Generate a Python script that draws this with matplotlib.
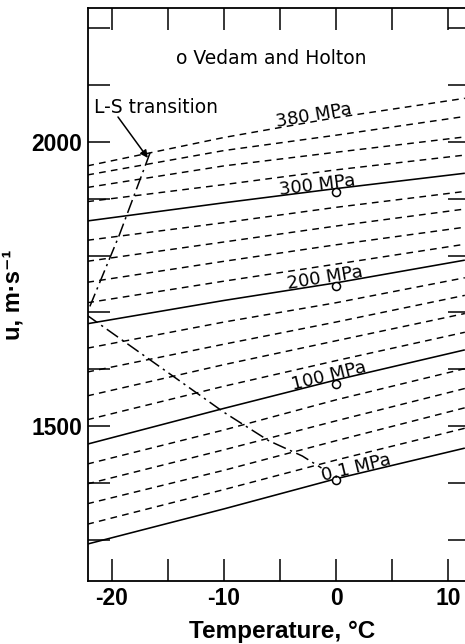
import numpy as np
import matplotlib
matplotlib.use("Agg")
import matplotlib.pyplot as plt
from matplotlib import transforms

# ---------------- data ----------------
temps = [-22.2, -10.0, 0.0, 11.5]          # deg C columns where speeds were read
pressures = [0.1, 20, 40, 60, 80, 100, 120, 140, 160, 180,
             200, 220, 240, 260, 280, 300, 320, 340, 360, 380]   # MPa
u_m22 = [1292, 1327, 1363, 1398, 1433, 1468, 1511, 1553, 1595, 1637,
         1680, 1717, 1753, 1790, 1827, 1861, 1895, 1920, 1942, 1958]
u_m10 = [1354, 1388, 1422, 1458, 1493, 1531, 1570, 1608, 1644, 1683,
         1721, 1755, 1790, 1824, 1858, 1893, 1925, 1958, 1985, 2008]
u_0 = [1407, 1440, 1474, 1509, 1546, 1581, 1615, 1650, 1683, 1717,
       1752, 1785, 1819, 1852, 1885, 1918, 1951, 1982, 2012, 2043]
u_p11 = [1461, 1496, 1532, 1566, 1601, 1634, 1665, 1698, 1730, 1761,
         1792, 1820, 1850, 1882, 1913, 1945, 1977, 2009, 2045, 2077]
solid_pressures = [0.1, 100, 200, 300]
labelled = {380: "380 MPa", 300: "300 MPa", 200: "200 MPa",
            100: "100 MPa", 0.1: "0.1 MPa"}

# Vedam and Holton points
vh_T = [0, 0, 0, 0]
vh_u = [1405, 1574, 1747, 1912]

# L-S transition line
trans_T = [-16.6, -19.35, -22.3]
trans_u = [1981, 1836, 1695]

# melting line
melt_T = [-22.3, -18, -14, -10, -6, -3, -1.3]
melt_u = [1696, 1636, 1580, 1524, 1474, 1447, 1426]

x_major = [-20, -10, 0, 10]
x_major_labels = ["-20", "-10", "0", "10"]
x_minor = [-15, -5, 5]
y_major = [1500, 2000]
y_major_labels = ["1500", "2000"]
y_minor = [1300, 1400, 1600, 1700, 1800, 1900, 2100, 2200]

# ---------------- figure ----------------
plt.rcParams['axes.unicode_minus'] = False
fig = plt.figure(figsize=(4.65, 6.44), dpi=100)
ax = fig.add_axes([88/465, 63/644, 382/465, 573/644])
ax.set_xlim(-22.14, 11.96)
ax.set_ylim(1227, 2236)

U = np.array([u_m22, u_m10, u_0, u_p11])   # shape (4, n)

for i, p in enumerate(pressures):
    col = U[:, i]
    if p in solid_pressures:
        ax.plot(temps, col, color='black', lw=1.15, solid_capstyle='butt')
    else:
        ax.plot(temps, col, color='black', lw=1.05, dashes=(4.6, 3.6))

ax.plot(trans_T, trans_u, color='black', lw=1.1, dashes=(9, 3, 1.5, 3))
ax.plot(melt_T, melt_u, color='black', lw=1.1, dashes=(9, 3, 1.5, 3))

ax.plot(vh_T, vh_u, linestyle='none', marker='o', markersize=5.8,
        markerfacecolor='white', markeredgecolor='black', markeredgewidth=1.1,
        zorder=5)

# line labels
label_start = {380: -5.3, 300: -5.0, 200: -4.3, 100: -3.8, 0.1: -1.15}
off = transforms.offset_copy(ax.transData, fig=fig, x=0, y=1, units='dots')
for p, txt in labelled.items():
    i = pressures.index(p)
    col = U[:, i]
    t0 = label_start[p]
    t1 = t0 + 6
    u0 = np.interp(t0, temps, col)
    u1 = np.interp(t1, temps, col)
    a = ax.transData.transform((t0, u0))
    b = ax.transData.transform((t1, u1))
    ang = np.degrees(np.arctan2(b[1] - a[1], b[0] - a[0]))
    ax.text(t0, u0, txt, rotation=ang, rotation_mode='anchor',
            ha='left', va='baseline', fontsize=13, family='DejaVu Sans',
            transform=off, zorder=6)

ax.text(0.479, 0.911, "o Vedam and Holton", transform=ax.transAxes,
        ha='center', va='center', fontsize=13.5, family='DejaVu Sans')
ax.text(0.016, 0.827, "L-S transition", transform=ax.transAxes,
        ha='left', va='center', fontsize=13.5, family='DejaVu Sans')
ax.annotate('', xy=(trans_T[0] - 0.2, trans_u[0] - 9),
            xytext=(0.0785, 0.8098), textcoords='axes fraction',
            arrowprops=dict(arrowstyle='-|>', color='black', lw=1.1,
                            mutation_scale=11, shrinkA=0, shrinkB=0))

# ticks
ax.set_xticks(x_major)
ax.set_xticklabels(x_major_labels)
ax.set_xticks(x_minor, minor=True)
ax.set_yticks(y_major)
ax.set_yticklabels(y_major_labels)
ax.set_yticks(y_minor, minor=True)
ax.tick_params(which='both', direction='in', length=15.8, width=1.1,
               top=True, right=True, pad=4.3)
for lab in ax.get_xticklabels() + ax.get_yticklabels():
    lab.set_family('Liberation Sans')
    lab.set_fontweight('bold')
    lab.set_fontsize(16.5)

for s in ax.spines.values():
    s.set_linewidth(1.3)

ax.set_xlabel("Temperature, °C", fontsize=17.5, fontweight='bold',
              family=['Liberation Sans', 'DejaVu Sans'])
ax.xaxis.set_label_coords(0.508, -0.068)
ax.set_ylabel("u, m·s⁻¹", fontsize=17, fontweight='bold',
              family=['Liberation Sans', 'DejaVu Sans'])
ax.yaxis.set_label_coords(-0.165, 0.5)

fig.savefig("out.png", dpi=100)
